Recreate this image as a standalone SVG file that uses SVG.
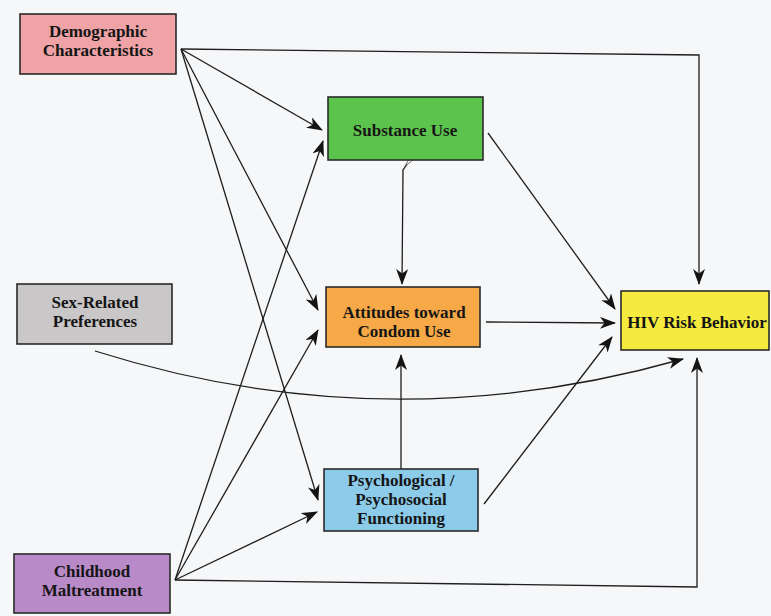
<svg xmlns="http://www.w3.org/2000/svg" width="771" height="616" viewBox="0 0 771 616">
<defs>
<marker id="ah" viewBox="0 0 16 12" refX="15" refY="6" markerWidth="16" markerHeight="12" markerUnits="userSpaceOnUse" orient="auto">
<path d="M0,0 L16,6 L0,12 L4.5,6 z" fill="#141414"/>
</marker>
<style>
.box{stroke:#2a2a2a;stroke-width:1.6}
.t{font-family:"Liberation Serif","Times New Roman",serif;font-weight:bold;font-size:17px;fill:#151515;text-anchor:middle}
.c{fill:none;stroke:#1e1e1e;stroke-width:1.3;marker-end:url(#ah)}
.p{fill:none;stroke:#1e1e1e;stroke-width:1.3}
</style>
</defs>
<rect width="771" height="616" fill="#f6f7f9"/>
<g id="connectors">
<polyline class="c" points="181,49 699,55 699,284"/>
<line class="c" x1="181" y1="49" x2="322" y2="130"/>
<line class="c" x1="181" y1="49" x2="318" y2="310"/>
<line class="c" x1="181" y1="49" x2="318" y2="500"/>
<line class="c" x1="175" y1="580" x2="323" y2="141"/>
<line class="c" x1="175" y1="580" x2="318" y2="330"/>
<line class="c" x1="175" y1="580" x2="317" y2="512"/>
<polyline class="c" points="175,580 697,587 697,358"/>
<line class="c" x1="488" y1="133" x2="615" y2="309"/>
<polyline class="c" points="410,160 403,170 402,284"/>
<path d="M405,166 L416,147 L413,160 z" fill="#ffffff" stroke="#555" stroke-width="0.8"/>
<line class="c" x1="486" y1="322" x2="615" y2="323"/>
<line class="c" x1="401" y1="469" x2="401" y2="355"/>
<line class="c" x1="484" y1="504" x2="612" y2="337"/>
<path class="c" d="M95,351 C250,400 450,425 683,359"/>
</g>
<g id="demographic">
<rect class="box" x="20" y="14" width="156" height="60" fill="#efa3a6"/>
<text class="t" x="98" y="37">Demographic</text>
<text class="t" x="98" y="56">Characteristics</text>
</g>
<g id="sex-related">
<rect class="box" x="17" y="284" width="155" height="60" fill="#c9c7c8"/>
<text class="t" x="95" y="308">Sex-Related</text>
<text class="t" x="95" y="327">Preferences</text>
</g>
<g id="childhood">
<rect class="box" x="14" y="554" width="156" height="59" fill="#b98ac8"/>
<text class="t" x="92" y="577">Childhood</text>
<text class="t" x="92" y="596">Maltreatment</text>
</g>
<g id="substance">
<rect class="box" x="328" y="97" width="155" height="63" fill="#5cc44c"/>
<text class="t" x="405" y="136">Substance Use</text>
</g>
<g id="attitudes">
<rect class="box" x="326" y="287" width="154" height="60" fill="#f6a946"/>
<text class="t" x="404" y="318">Attitudes toward</text>
<text class="t" x="404" y="337">Condom Use</text>
</g>
<g id="psychological">
<rect class="box" x="324" y="469" width="154" height="62" fill="#8ccbea"/>
<text class="t" x="401" y="486">Psychological /</text>
<text class="t" x="401" y="505">Psychosocial</text>
<text class="t" x="401" y="524">Functioning</text>
</g>
<g id="hiv">
<rect class="box" x="621" y="291" width="148" height="59" fill="#f4eb3e"/>
<text class="t" x="697" y="328">HIV Risk Behavior</text>
</g>
</svg>
